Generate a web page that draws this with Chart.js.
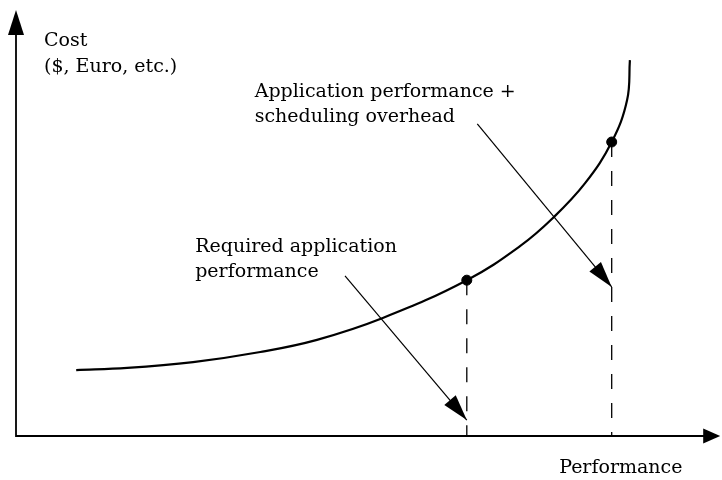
<!DOCTYPE html>
<html>
<head>
<meta charset="utf-8">
<script src="https://cdn.jsdelivr.net/npm/chart.js@4"></script>
<style>
  body { margin: 0; background: #fff; }
  #wrap { width: 722px; height: 480px; position: relative; }
</style>
</head>
<body>
<div id="wrap"><canvas id="costChart"></canvas></div>
<script>
// cost curve (performance vs cost, arbitrary units 0..100)
const curvePerf = [8.6, 15.9, 25.3, 34.9, 43.0, 52.4, 64.4, 72.0, 76.7, 81.3, 85.1, 87.3, 87.7];
const curveCost = [15.7, 16.2, 17.6, 20.0, 22.9, 28.1, 37.1, 45.2, 51.9, 60.2, 70.0, 80.0, 89.5];

// the two marked operating points
const markPerf = [64.4, 85.1];
const markCost = [37.1, 70.0];

// annotation arrows: [fromPerf, fromCost, toPerf, toCost]
const arrowRequired = [47.0, 38.1, 64.4, 3.8];
const arrowOverhead = [65.9, 74.3, 85.1, 35.5];

// texts
const yAxisLabel = ["Cost", "($, Euro, etc.)"];
const xAxisLabel = "Performance";
const requiredLabel = ["Required application", "performance"];
const overheadLabel = ["Application performance +", "scheduling overhead"];

const xTip = 100.6;
const yTip = 101.4;

const pts = (xs, ys) => xs.map((x, i) => ({ x: x, y: ys[i] }));

const datasets = [
    {
        data: pts(curvePerf, curveCost),
        showLine: true,
        borderColor: "#000",
        borderWidth: 2.2,
        pointRadius: 0,
        tension: 0.4,
        clip: false
    },
    {
        data: pts(markPerf, markCost),
        showLine: false,
        pointRadius: 5,
        pointBackgroundColor: "#000",
        pointBorderColor: "#000",
        clip: false
    }
];

// dashed drop lines
markPerf.forEach((p, i) => {
    datasets.push({
        data: [{ x: p, y: markCost[i] }, { x: p, y: 0 }],
        showLine: true,
        borderColor: "#000",
        borderWidth: 1.3,
        borderDash: [15, 14],
        pointRadius: 0,
        clip: false
    });
});

// arrow shafts
[arrowRequired, arrowOverhead].forEach(a => {
    datasets.push({
        data: [{ x: a[0], y: a[1] }, { x: a[2], y: a[3] }],
        showLine: true,
        borderColor: "#000",
        borderWidth: 1.2,
        pointRadius: 0,
        clip: false
    });
});

function head(ctx, fx, fy, tx, ty, len, half) {
    const ang = Math.atan2(ty - fy, tx - fx);
    const bx = tx - len * Math.cos(ang);
    const by = ty - len * Math.sin(ang);
    ctx.beginPath();
    ctx.moveTo(tx, ty);
    ctx.lineTo(bx + half * Math.sin(ang), by - half * Math.cos(ang));
    ctx.lineTo(bx - half * Math.sin(ang), by + half * Math.cos(ang));
    ctx.closePath();
    ctx.fill();
}

const decorations = {
    id: "decorations",
    afterDatasetsDraw(chart) {
        const ctx = chart.ctx;
        const xs = chart.scales.x;
        const ys = chart.scales.y;
        const X = v => xs.getPixelForValue(v);
        const Y = v => ys.getPixelForValue(v);

        ctx.save();
        ctx.strokeStyle = "#000";
        ctx.fillStyle = "#000";

        // axes
        ctx.lineWidth = 1.8;
        ctx.beginPath();
        ctx.moveTo(X(0), Y(yTip) + 10);
        ctx.lineTo(X(0), Y(0));
        ctx.lineTo(X(xTip) - 10, Y(0));
        ctx.stroke();
        head(ctx, X(0), Y(0), X(0), Y(yTip), 25, 8);
        head(ctx, X(0), Y(0), X(xTip), Y(0), 17, 7.5);

        // arrow heads
        [arrowRequired, arrowOverhead].forEach(a => {
            head(ctx, X(a[0]), Y(a[1]), X(a[2]), Y(a[3]), 26, 7.5);
        });

        // texts
        ctx.font = "19px 'DejaVu Serif'";
        ctx.textBaseline = "alphabetic";
        ctx.textAlign = "left";
        ctx.fillText(yAxisLabel[0], X(4.0), Y(92.9));
        ctx.fillText(yAxisLabel[1], X(4.0), Y(86.7));
        ctx.fillText(overheadLabel[0], X(34.1), Y(80.7));
        ctx.fillText(overheadLabel[1], X(34.1), Y(74.8));
        ctx.fillText(requiredLabel[0], X(25.6), Y(43.8));
        ctx.fillText(requiredLabel[1], X(25.6), Y(37.9));
        ctx.fillText(xAxisLabel, X(77.6), Y(-8.8));
        ctx.restore();
    }
};

new Chart(document.getElementById("costChart"), {
    type: "scatter",
    data: { datasets: datasets },
    options: {
        responsive: true,
        maintainAspectRatio: false,
        animation: false,
        layout: { padding: { left: 16, right: 6, top: 16, bottom: 44 } },
        scales: {
            x: { type: "linear", min: 0, max: 100, display: false },
            y: { type: "linear", min: 0, max: 100, display: false }
        },
        plugins: {
            legend: { display: false },
            tooltip: { enabled: false }
        }
    },
    plugins: [decorations]
});
</script>
</body>
</html>
